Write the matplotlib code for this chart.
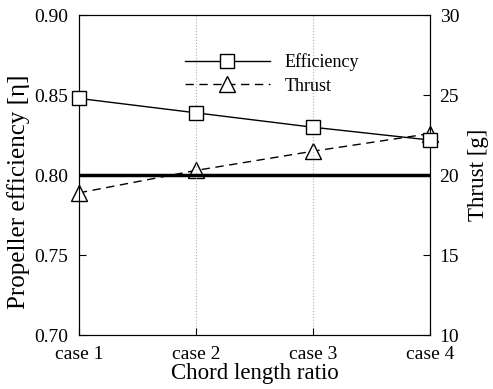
import matplotlib.pyplot as plt

plt.rcParams['font.family'] = ['Liberation Serif', 'DejaVu Serif']

# Data
cases = ['case 1', 'case 2', 'case 3', 'case 4']
efficiency = [0.848, 0.839, 0.830, 0.822]
thrust = [18.9, 20.3, 21.5, 22.6]
target_eff = 0.80

x = range(len(cases))

fig, ax = plt.subplots(figsize=(4.93, 3.89), dpi=100)
ax2 = ax.twinx()

l1, = ax.plot(x, efficiency, '-', color='black', lw=1, marker='s', ms=10,
              mfc='white', mec='black', mew=1, clip_on=False, zorder=5,
              label='Efficiency')
l2, = ax2.plot(x, thrust, '--', color='black', lw=1, dashes=(6, 4), marker='^',
               ms=11, mfc='white', mec='black', mew=1, clip_on=False, zorder=5,
               label='Thrust')
ax.axhline(target_eff, color='black', lw=2.5, zorder=3)

ax.set_xlim(0, 3)
ax.set_ylim(0.70, 0.90)
ax2.set_ylim(10, 30)
ax.set_xticks(list(x))
ax.set_xticklabels(cases)
ax.set_yticks([0.70, 0.75, 0.80, 0.85, 0.90])
ax.set_yticklabels(['0.70', '0.75', '0.80', '0.85', '0.90'])
ax2.set_yticks([10, 15, 20, 25, 30])

ax.grid(axis='x', color='#b0b0b0', ls=':', lw=0.8)
ax.tick_params(direction='in', labelsize=14, length=5)
ax.tick_params(axis='y', pad=8)
ax.tick_params(axis='x', pad=8)
ax2.tick_params(direction='in', labelsize=14, length=5, pad=7)

ax.set_xlabel('Chord length ratio', fontsize=16.5, labelpad=0)
ax.set_ylabel('Propeller efficiency [η]', fontsize=18)
ax.yaxis.set_label_coords(-0.14, 0.45)
ax2.set_ylabel('Thrust [g]', fontsize=16.5, labelpad=6)

ax.set_zorder(ax2.get_zorder() + 1)
ax.patch.set_visible(False)

ax.legend([l1, l2], ['Efficiency', 'Thrust'], loc='upper left',
          bbox_to_anchor=(0.302, 0.88), frameon=False, fontsize=13,
          borderpad=0, borderaxespad=0,
          handlelength=4.7, handletextpad=0.8, labelspacing=0.35)

fig.subplots_adjust(left=0.16, right=0.872, top=0.961, bottom=0.138)
fig.savefig('out.png', dpi=100)
